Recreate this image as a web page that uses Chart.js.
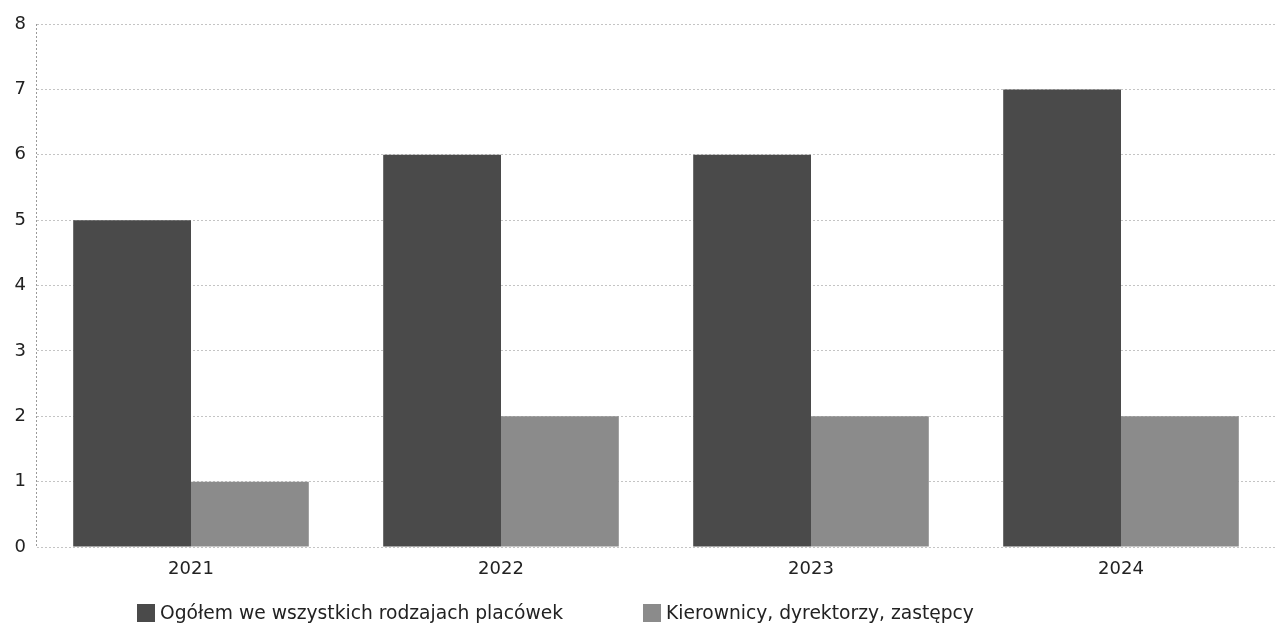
<!DOCTYPE html>
<html lang="pl">
<head>
<meta charset="utf-8">
<script src="https://cdn.jsdelivr.net/npm/chart.js@4/dist/chart.umd.min.js"></script>
<style>
  html, body { margin: 0; padding: 0; background: #fff; }
  #wrap { position: relative; width: 1276px; height: 635px; }
  #legend { position: absolute; left: 0; top: 602px; width: 1276px; height: 24px;
            font-family: "DejaVu Sans", sans-serif; font-size: 18.7px; color: #222; }
  .leg-item { position: absolute; display: flex; align-items: center; white-space: nowrap; }
  .leg-box { width: 18px; height: 18px; margin-right: 5px; }
</style>
</head>
<body>
<div id="wrap">
  <canvas id="chart" width="1276" height="635"></canvas>
  <div id="legend"></div>
</div>
<script>
// data
const years = ['2021', '2022', '2023', '2024'];
const ogolem = [5, 6, 6, 7];
const kierownicy = [1, 2, 2, 2];
const seriesNames = ['Ogółem we wszystkich rodzajach placówek', 'Kierownicy, dyrektorzy, zastępcy'];
const yTicks = [0, 1, 2, 3, 4, 5, 6, 7, 8];

const darkGray = '#4a4a4a';
const lightGray = '#8b8b8b';
const legendLeft = [137, 643];

// legend as html so it can sit off-centre like the scan
const legendEl = document.getElementById('legend');
[darkGray, lightGray].forEach((c, i) => {
  const item = document.createElement('div');
  item.className = 'leg-item';
  item.style.left = legendLeft[i] + 'px';
  item.innerHTML = `<span class="leg-box" style="background:${c}"></span><span>${seriesNames[i]}</span>`;
  legendEl.appendChild(item);
});

const dotted = [2, 2];

new Chart(document.getElementById('chart'), {
  type: 'bar',
  data: {
    labels: years,
    datasets: [
      { label: seriesNames[0], data: ogolem, backgroundColor: darkGray, categoryPercentage: 0.76, barPercentage: 1 },
      { label: seriesNames[1], data: kierownicy, backgroundColor: lightGray, categoryPercentage: 0.76, barPercentage: 1 }
    ]
  },
  options: {
    responsive: false,
    animation: false,
    layout: { padding: { top: 24, right: 0, bottom: 0, left: 0 } },
    plugins: { legend: { display: false }, tooltip: { enabled: false } },
    scales: {
      x: {
        grid: { display: false, drawTicks: false },
        border: { display: false },
        ticks: { color: '#222', padding: 12, font: { family: 'DejaVu Sans', size: 18 } },
        afterFit: s => { s.height = 88; }
      },
      y: {
        min: 0, max: 8,
        afterBuildTicks: s => { s.ticks = yTicks.map(v => ({ value: v })); },
        grid: { color: '#c4c4c4', lineWidth: 1, drawTicks: false },
        border: { display: true, color: '#9a9a9a', dash: dotted },
        ticks: { color: '#222', padding: 10, font: { family: 'DejaVu Sans', size: 18 } },
        afterFit: s => { s.width = 36; }
      }
    }
  },
  plugins: [{
    // chart.js v4 has no dash option on grid lines, so set it on the context
    id: 'dottedGrid',
    beforeDraw: c => { c.ctx.setLineDash(dotted); },
    afterDatasetsDraw: c => { c.ctx.setLineDash([]); }
  }]
});
</script>
</body>
</html>
